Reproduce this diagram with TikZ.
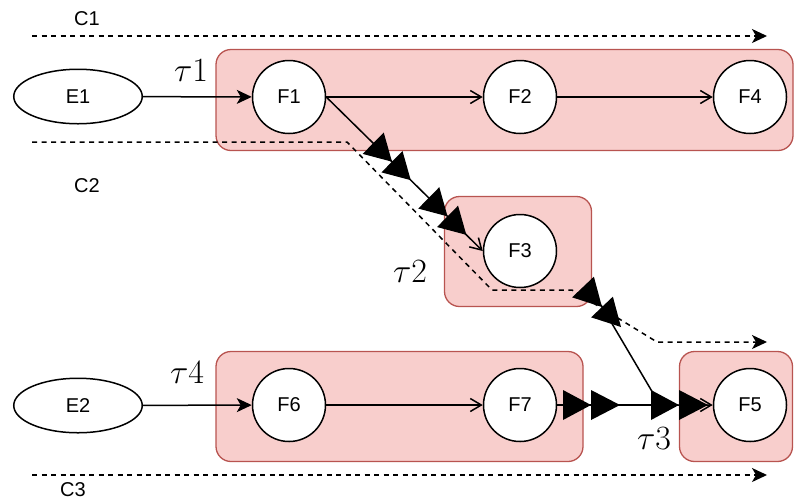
\RequirePackage{fix-cm}
\documentclass[tikz,border=0pt]{standalone}
\usepackage{fontspec}
\setmainfont{Liberation Sans}
\usetikzlibrary{arrows.meta,shapes.geometric,calc}
\definecolor{boxfill}{HTML}{F8CECC}
\definecolor{boxline}{HTML}{B85450}
\newcommand{\blk}[2]{\fill (#2) -- ($(#1)!15pt!90:(#2)$) -- ($(#1)!15pt!-90:(#2)$) -- cycle;}
\begin{document}
\begin{tikzpicture}[x=1pt,y=-1pt,line width=1.5pt,
  txt/.style={font=\fontsize{20}{20}\selectfont},
  tau/.style={font=\fontsize{34}{34}\selectfont, inner sep=0pt},
  fn/.style={circle, draw, fill=white, minimum size=73pt, inner sep=0pt, txt},
  ev/.style={ellipse, draw, fill=white, minimum width=128.5pt, minimum height=54.5pt, inner sep=0pt, txt},
  grp/.style={rectangle, draw=boxline, fill=boxfill, rounded corners=15pt, line width=1.3pt, inner sep=0pt},
  clsc/.style={-{Stealth[length=15pt,width=14pt,inset=4pt]}},
  opn/.style={-{Straight Barb[length=11pt,width=13pt]}},
  dsh/.style={dash pattern=on 5pt off 4.5pt, clsc}]
\useasboundingbox (0,0) rectangle (794,499);
% groups
\node[grp, minimum width=577pt, minimum height=101pt] (G1) at (504.5,100) {};
\node[grp, minimum width=147pt, minimum height=110pt] (G2) at (518,251.5) {};
\node[grp, minimum width=367pt, minimum height=110pt] (G3) at (399.5,406.5) {};
\node[grp, minimum width=113pt, minimum height=110pt] (G4) at (736,406.5) {};
% labels
\node[txt] (C1) at (87,19) {C1};
\node[txt] (C2) at (87,186) {C2};
\node[txt] (C3) at (73,489.5) {C3};
\node[tau] (t1) at (191,71) {$\tau1$};
\node[tau] (t2) at (410,272) {$\tau2$};
\node[tau] (t3) at (654,439) {$\tau3$};
\node[tau] (t4) at (187,373) {$\tau4$};
% channel lines
\coordinate (c1s) at (32,36);
\coordinate (c1e) at (767,36);
\coordinate (c2s) at (32,142);
\coordinate (c2e) at (767,342);
\coordinate (c3s) at (32,475);
\coordinate (c3e) at (767,475);
\draw[dsh] (c1s) -- (c1e);
\draw[dsh] (c2s) -- (347,142) -- (492,290) -- (572,290) -- (657,342) -- (c2e);
\draw[dsh] (c3s) -- (c3e);
% nodes
\node[ev] (E1) at (78,96.5) {E1};
\node[ev] (E2) at (78,405.5) {E2};
\node[fn] (F1) at (289,97) {F1};
\node[fn] (F2) at (520,97) {F2};
\node[fn] (F4) at (750,97) {F4};
\node[fn] (F3) at (520,251) {F3};
\node[fn] (F6) at (289,405) {F6};
\node[fn] (F7) at (520,405) {F7};
\node[fn] (F5) at (750,405) {F5};
% edges
\draw[clsc] (E1) -- (F1);
\draw[clsc] (E2) -- (F6);
\draw[opn] (F1) -- (F2);
\draw[opn] (F2) -- (F4);
\draw[opn] (F6) -- (F7);
\draw[opn] (F1.east) -- (F3.west);
\coordinate (s) at (601,305);
\coordinate (j) at (660,405);
\draw (F7.east) -- (j);
\draw[opn] (s) -- (j) -- (F5.west);
% block markers
\foreach \a/\b [count=\i] in {0.30/0.42,0.42/0.54,0.655/0.775,0.775/0.895}
  {\coordinate (p\i) at ($(F1.east)!\a!(F3.west)$);
   \coordinate (q\i) at ($(F1.east)!\b!(F3.west)$);
   \blk{p\i}{q\i}}
\coordinate (b5) at (583,287);
\coordinate (b6) at (602,307);
\coordinate (b7) at (621,327);
\blk{b5}{b6}
\blk{b6}{b7}
\coordinate (h1) at (563,405);
\coordinate (h2) at (591,405);
\coordinate (h3) at (620,405);
\blk{h1}{h2}
\blk{h2}{h3}
\coordinate (k1) at (651,405);
\coordinate (k2) at (679,405);
\coordinate (k3) at (708,405);
\blk{k1}{k2}
\blk{k2}{k3}
\end{tikzpicture}
\end{document}
